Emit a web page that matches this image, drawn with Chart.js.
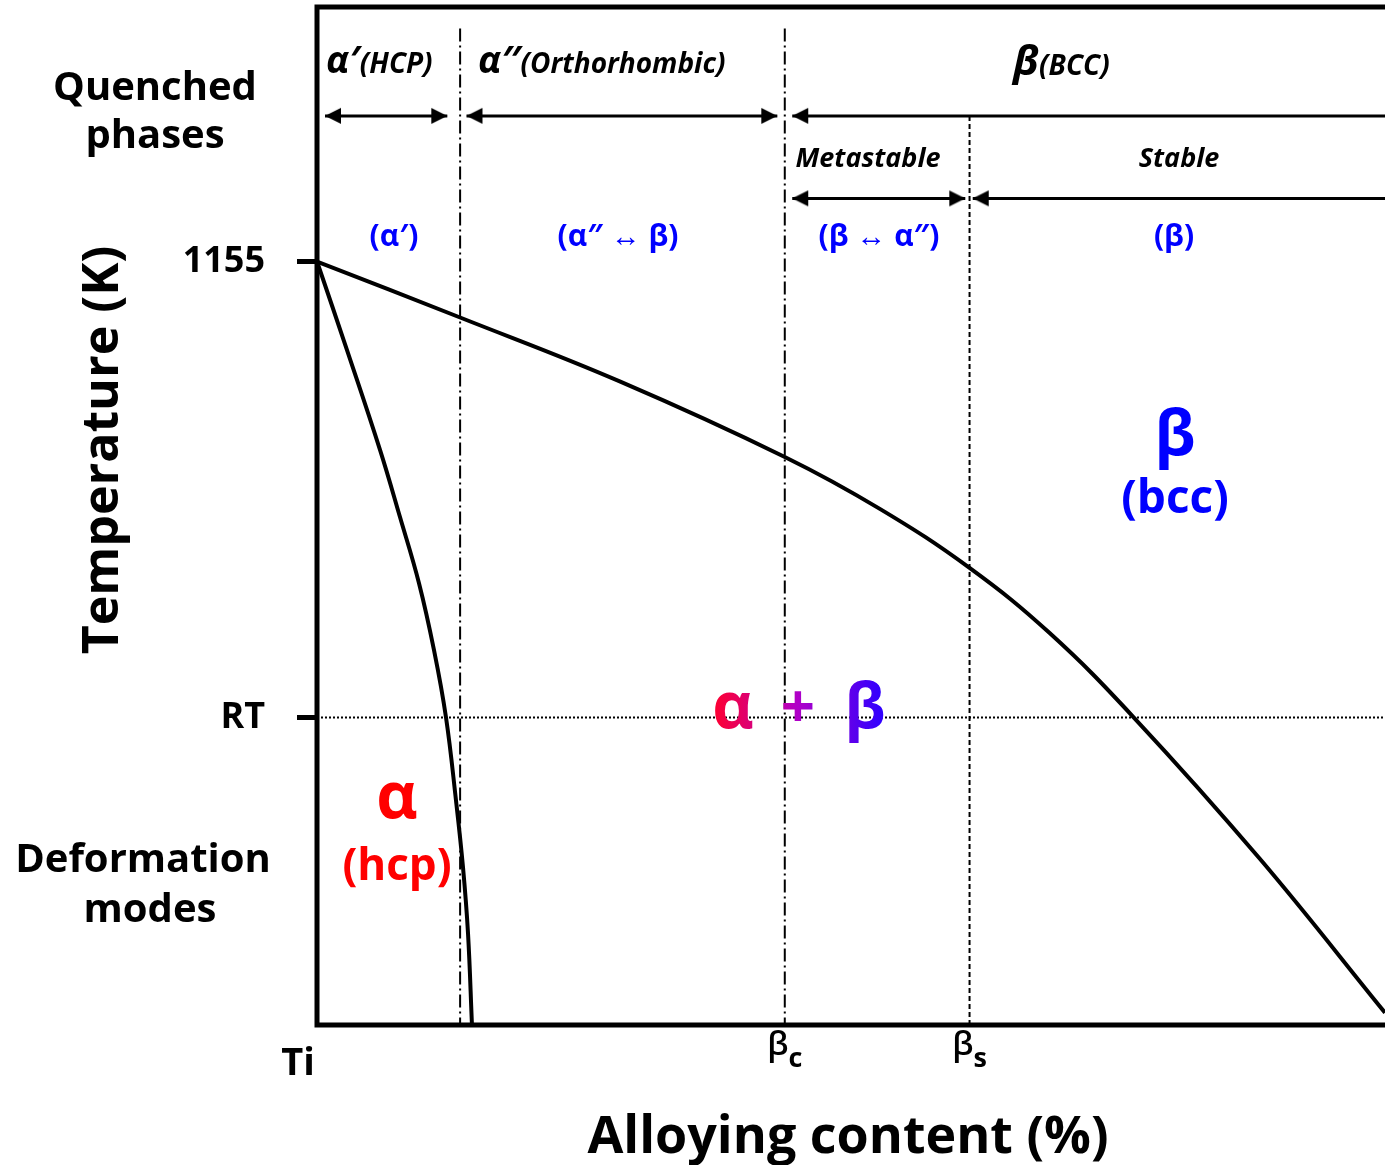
<!DOCTYPE html>
<html>
<head>
<meta charset="utf-8">
<script src="https://cdn.jsdelivr.net/npm/chart.js@4.4.0/dist/chart.umd.min.js"></script>
<style>
  html, body { margin: 0; padding: 0; background: #fff; }
  #wrap { width: 1385px; height: 1165px; }
</style>
</head>
<body>
<div id="wrap"><canvas id="chart"></canvas></div>
<script>
// Schematic axes: x = alloying content (0-100, arbitrary), y = temperature (0-100, arbitrary)
const alphaTransusX = [0, 2.81, 5.90, 7.77, 9.55, 10.96, 12.08, 13.01, 13.67, 14.14, 14.51];
const alphaTransusY = [75, 66.3, 56.5, 49.9, 43.4, 36.8, 30.2, 22.1, 15.5, 9.0, 0];
const betaTransusX = [0, 13.4, 28.4, 43.8, 52.7, 61.1, 68.6, 76.4, 88.3, 100];
const betaTransusY = [75, 69.5, 63.2, 55.8, 50.7, 44.9, 38.5, 30.3, 16.3, 1.2];

const yTickValues = [75, 30.2];
const yTickLabels = ['1155', 'RT'];
const roomTemp = 30.2;

// vertical boundaries: alpha'/alpha'', beta_c, beta_s
const boundaryX = [13.4, 43.8, 61.1];
const boundaryTop = [97.9, 97.9, 89.3];
const boundaryStyle = ['dashdot', 'dashdot', 'dashed'];

const xMarkValues = [43.8, 61.1];
const xMarkSubs = ['c', 's'];

// arrows under the quenched-phase headers
const arrowFrom = [0.75, 14.0, 44.5, 44.5, 61.4];
const arrowTo = [12.2, 43.1, 100, 60.7, 100];
const arrowLevel = [89.3, 89.3, 89.3, 81.2, 81.2];
const arrowHeads = ['both', 'both', 'left', 'both', 'left'];

const FONT = '"Open Sans", "Noto Sans", sans-serif';

// arrowhead image: tip at the image centre, pointing right
const head = document.createElement('canvas');
head.width = 36; head.height = 18;
(function () {
    const c = head.getContext('2d');
    c.fillStyle = '#000';
    c.beginPath();
    c.moveTo(18, 9);
    c.lineTo(2, 1);
    c.lineTo(2, 17);
    c.closePath();
    c.fill();
})();

const toPoints = (xs, ys) => xs.map((x, i) => ({ x: x, y: ys[i] }));

const datasets = [];

datasets.push({
    label: 'alpha transus',
    data: toPoints(alphaTransusX, alphaTransusY),
    borderColor: '#000', borderWidth: 4, pointRadius: 0,
    tension: 0.4, showLine: true
});
datasets.push({
    label: 'beta transus',
    data: toPoints(betaTransusX, betaTransusY),
    borderColor: '#000', borderWidth: 4, pointRadius: 0,
    tension: 0.4, showLine: true
});

boundaryX.forEach((x, i) => {
    datasets.push({
        label: 'boundary ' + i,
        data: [{ x: x, y: boundaryTop[i] }, { x: x, y: 0 }],
        borderColor: '#000', borderWidth: 2, pointRadius: 0, showLine: true,
        borderDash: boundaryStyle[i] === 'dashdot' ? [13, 4, 2, 4] : [5, 3]
    });
});

datasets.push({
    label: 'RT',
    data: [{ x: 0, y: roomTemp }, { x: 100, y: roomTemp }],
    borderColor: '#000', borderWidth: 2, pointRadius: 0, showLine: true,
    borderDash: [2, 2]
});

arrowFrom.forEach((x0, i) => {
    const both = arrowHeads[i] === 'both';
    datasets.push({
        label: 'arrow ' + i,
        data: [{ x: x0, y: arrowLevel[i] }, { x: arrowTo[i], y: arrowLevel[i] }],
        borderColor: '#000', borderWidth: 3, showLine: true,
        pointStyle: head,
        pointRadius: [4, both ? 4 : 0],
        pointRotation: [180, 0]
    });
});

// rich text helper: parts = [text, font, colour, dy]
function drawRich(ctx, parts, x, y, align) {
    let total = 0;
    const widths = parts.map(p => { ctx.font = p[1]; const w = ctx.measureText(p[0]).width; total += w; return w; });
    let cx = align === 'center' ? x - total / 2 : (align === 'right' ? x - total : x);
    ctx.textAlign = 'left';
    ctx.textBaseline = 'alphabetic';
    parts.forEach((p, i) => {
        ctx.font = p[1];
        ctx.fillStyle = p[2];
        ctx.fillText(p[0], cx, y + (p[3] || 0));
        cx += widths[i];
    });
}

const annotations = {
    id: 'annotations',
    afterDraw(chart) {
        const ctx = chart.ctx;
        const a = chart.chartArea;
        const xs = chart.scales.x;
        ctx.save();

        // frame (left, top, bottom)
        ctx.strokeStyle = '#000';
        ctx.lineWidth = 5;
        ctx.beginPath();
        ctx.moveTo(a.right + 5, a.top);
        ctx.lineTo(a.left, a.top);
        ctx.lineTo(a.left, a.bottom);
        ctx.lineTo(a.right + 5, a.bottom);
        ctx.stroke();

        const B = 'bold ';
        const BI = 'italic bold ';
        const black = '#000';
        const blue = '#0000ff';
        const red = '#ff0000';

        // outer labels
        drawRich(ctx, [['Quenched', B + '40px ' + FONT, black]], 155, 100, 'center');
        drawRich(ctx, [['phases', B + '40px ' + FONT, black]], 155, 148, 'center');
        drawRich(ctx, [['Deformation', B + '40px ' + FONT, black]], 143, 872, 'center');
        drawRich(ctx, [['modes', B + '40px ' + FONT, black]], 150, 922, 'center');

        ctx.save();
        ctx.translate(118, 450);
        ctx.rotate(-Math.PI / 2);
        drawRich(ctx, [['Temperature (K)', B + '50px ' + FONT, black]], 0, 0, 'center');
        ctx.restore();

        drawRich(ctx, [['Alloying content (%)', B + '52px ' + FONT, black]], 848, 1153, 'center');
        drawRich(ctx, [['Ti', B + '38px ' + FONT, black]], 298, 1075, 'center');

        xMarkValues.forEach((v, i) => {
            drawRich(ctx, [
                ['β', '600 33px ' + FONT, black],
                [xMarkSubs[i], 'bold 27px ' + FONT, black, 12]
            ], xs.getPixelForValue(v), 1055, 'center');
        });

        // quenched phase headers
        drawRich(ctx, [['α′', BI + '38px ' + FONT, black], ['(HCP)', BI + '28px ' + FONT, black]], 326, 73, 'left');
        drawRich(ctx, [['α″', BI + '38px ' + FONT, black], ['(Orthorhombic)', BI + '28px ' + FONT, black]], 478, 73, 'left');
        drawRich(ctx, [['β', BI + '42px ' + FONT, black], ['(BCC)', BI + '28px ' + FONT, black]], 1013, 75, 'left');
        drawRich(ctx, [['Metastable', BI + '27px ' + FONT, black]], 868, 167, 'center');
        drawRich(ctx, [['Stable', BI + '27px ' + FONT, black]], 1179, 167, 'center');

        drawRich(ctx, [['(α′)', B + '30px ' + FONT, blue]], 394, 246, 'center');
        drawRich(ctx, [['(α″ ↔ β)', B + '30px ' + FONT, blue]], 618, 246, 'center');
        drawRich(ctx, [['(β ↔ α″)', B + '30px ' + FONT, blue]], 879, 246, 'center');
        drawRich(ctx, [['(β)', B + '30px ' + FONT, blue]], 1174, 246, 'center');

        // phase fields
        drawRich(ctx, [['β', B + '62px ' + FONT, blue]], 1175, 455, 'center');
        drawRich(ctx, [['(bcc)', B + '46px ' + FONT, blue]], 1175, 513, 'center');
        drawRich(ctx, [['α', B + '64px ' + FONT, red]], 397, 818, 'center');
        drawRich(ctx, [['(hcp)', B + '44px ' + FONT, red]], 397, 880, 'center');

        const g = ctx.createLinearGradient(713, 0, 882, 0);
        g.addColorStop(0, '#ff0030');
        g.addColorStop(0.5, '#b000c8');
        g.addColorStop(1, '#3000ff');
        drawRich(ctx, [['α', B + '64px ' + FONT, g]], 733, 728, 'center');
        drawRich(ctx, [['+', B + '60px ' + FONT, g]], 798, 728, 'center');
        drawRich(ctx, [['β', B + '62px ' + FONT, g]], 865, 728, 'center');

        ctx.restore();
    }
};

new Chart(document.getElementById('chart'), {
    type: 'scatter',
    data: { datasets: datasets },
    options: {
        responsive: true,
        maintainAspectRatio: false,
        animation: false,
        events: [],
        layout: { autoPadding: false, padding: { left: 0, top: 7, right: 0, bottom: 140 } },
        plugins: { legend: { display: false }, tooltip: { enabled: false } },
        scales: {
            x: { type: 'linear', min: 0, max: 100, display: false },
            y: {
                type: 'linear', min: 0, max: 100,
                afterBuildTicks: s => { s.ticks = yTickValues.map(v => ({ value: v })); },
                afterFit: s => { s.width = 317; s.paddingTop = 0; s.paddingBottom = 0; },
                border: { display: false },
                grid: { drawOnChartArea: false, drawTicks: true, tickLength: 20, lineWidth: 5, color: '#000' },
                ticks: {
                    autoSkip: false,
                    padding: 32,
                    color: '#000',
                    font: { family: FONT, size: 36, weight: 'bold' },
                    callback: (v, i) => yTickLabels[i]
                }
            }
        }
    },
    plugins: [annotations]
});
</script>
</body>
</html>
